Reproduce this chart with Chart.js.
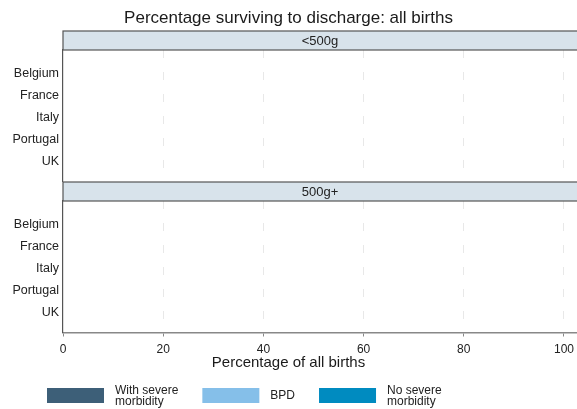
<!DOCTYPE html>
<html lang="en">

<head>
  <meta charset="UTF-8">
  <title>Percentage surviving to discharge: all births</title>
  <style>
    body {
      margin: 0;
      background-color: #fff;
    }

    .wrap {
      position: relative;
      width: 577px;
      height: 409px;
      overflow: hidden;
    }

    canvas {
      position: absolute;
      left: 0;
    }
  </style>
  <script src="https://cdn.jsdelivr.net/npm/chart.js"></script>
</head>

<body>
  <div class="wrap">
    <canvas id="top" width="577" height="193" style="top:0"></canvas>
    <canvas id="bottom" width="577" height="229" style="top:180px"></canvas>
  </div>

  <script>
    // Data (no bars are visible in the reference, so every value is empty)
    const countries = ['Belgium', 'France', 'Italy', 'Portugal', 'UK'];
    const panels = ['<500g', '500g+'];
    const seriesNames = ['With severe\nmorbidity', 'BPD', 'No severe\nmorbidity'];
    const seriesColors = ['#3d5f78', '#85bfe9', '#008bc0'];
    const xTicks = [0, 20, 40, 60, 80, 100];

    const under500Severe = [null, null, null, null, null];
    const under500BPD = [null, null, null, null, null];
    const under500NoSevere = [null, null, null, null, null];
    const over500Severe = [null, null, null, null, null];
    const over500BPD = [null, null, null, null, null];
    const over500NoSevere = [null, null, null, null, null];

    const FONT = "'Liberation Sans', Arial, sans-serif";
    Chart.defaults.font.family = FONT;
    Chart.defaults.color = '#222';

    // grey header strip above each panel
    const stripPlugin = {
      id: 'strip',
      afterDraw(chart, args, opts) {
        const { ctx, chartArea } = chart;
        const top = chartArea.top - 19;
        ctx.save();
        ctx.fillStyle = '#d8e3eb';
        ctx.fillRect(chartArea.left, top, chart.width - chartArea.left + 5, 19);
        ctx.strokeStyle = '#555';
        ctx.lineWidth = 1.2;
        ctx.strokeRect(chartArea.left, top, chart.width - chartArea.left + 5, 19);
        ctx.fillStyle = '#222';
        ctx.font = '13px ' + FONT;
        ctx.textAlign = 'center';
        ctx.textBaseline = 'middle';
        ctx.fillText(opts.text, (chartArea.left + chartArea.right) / 2, top + 10);
        ctx.restore();
      }
    };

    // legend with boxes and two-line labels, under the bottom panel
    const boxLegend = {
      id: 'boxLegend',
      afterDraw(chart, args, opts) {
        if (!opts.show) return;
        const ctx = chart.ctx;
        const y0 = chart.height - 21;
        let x = 47;
        ctx.save();
        ctx.font = '12px ' + FONT;
        ctx.textBaseline = 'middle';
        chart.data.datasets.forEach(ds => {
          const lines = ds.label.split('\n');
          ctx.fillStyle = ds.backgroundColor;
          ctx.fillRect(x, y0, 57, 15);
          ctx.fillStyle = '#222';
          const tx = x + 68;
          const yc = y0 + 8;
          lines.forEach((l, i) => ctx.fillText(l, tx, yc + (i - (lines.length - 1) / 2) * 11));
          const w = Math.max(...lines.map(l => ctx.measureText(l).width));
          x = tx + w + 24;
        });
        ctx.restore();
      }
    };

    function pad(arr) {
      return [null, ...arr, null];
    }

    function makePanel(id, panelIdx, values, isBottom) {
      const datasets = values.map((v, i) => ({
        label: seriesNames[i],
        data: pad(v),
        backgroundColor: seriesColors[i],
        borderWidth: 0,
        barPercentage: 0.8,
        categoryPercentage: 0.9
      }));

      return new Chart(document.getElementById(id), {
        type: 'bar',
        data: { labels: ['', ...countries, ''], datasets: datasets },
        plugins: [stripPlugin, boxLegend],
        options: {
          indexAxis: 'y',
          responsive: false,
          animation: false,
          layout: {
            padding: isBottom ? { top: 21, bottom: 38.5, left: 0, right: 0 } : { top: 0, bottom: 0, left: 0, right: 0 }
          },
          scales: {
            x: {
              stacked: true,
              min: 0,
              max: 102.6,
              afterBuildTicks: s => { s.ticks = xTicks.map(v => ({ value: v })); },
              afterFit: s => { s.paddingLeft = 0; s.paddingRight = 0; },
              ticks: {
                display: isBottom,
                padding: 7,
                font: { size: 12, lineHeight: 1 },
                color: '#222'
              },
              grid: {
                color: c => (c.tick && c.tick.value === 0) ? 'rgba(0,0,0,0)' : '#e8e8e8',
                lineWidth: 1,
                drawTicks: isBottom,
                tickLength: 4,
                tickColor: '#888',
                tickWidth: 1
              },
              border: {
                display: isBottom,
                color: '#888',
                width: 1.5,
                dash: [8, 14]
              }
            },
            y: {
              stacked: true,
              offset: false,
              afterFit: s => { s.width = 63; },
              ticks: {
                padding: 4,
                labelOffset: 2,
                font: { size: 12.5 },
                color: '#222'
              },
              grid: { display: false, drawTicks: false },
              border: { display: true, color: '#555', width: 1.2 }
            }
          },
          plugins: {
            legend: { display: false },
            tooltip: { enabled: false },
            title: {
              display: !isBottom,
              text: 'Percentage surviving to discharge: all births',
              font: { size: 17, weight: 'normal' },
              color: '#1a1a1a',
              padding: { top: 8, bottom: 21.6 }
            },
            subtitle: {
              display: isBottom,
              position: 'bottom',
              text: 'Percentage of all births',
              font: { size: 15, lineHeight: 1 },
              color: '#1a1a1a',
              padding: { top: -7, bottom: 0 }
            },
            strip: { text: panels[panelIdx] },
            boxLegend: { show: isBottom }
          }
        }
      });
    }

    makePanel('top', 0, [under500Severe, under500BPD, under500NoSevere], false);
    makePanel('bottom', 1, [over500Severe, over500BPD, over500NoSevere], true);
  </script>
</body>

</html>
